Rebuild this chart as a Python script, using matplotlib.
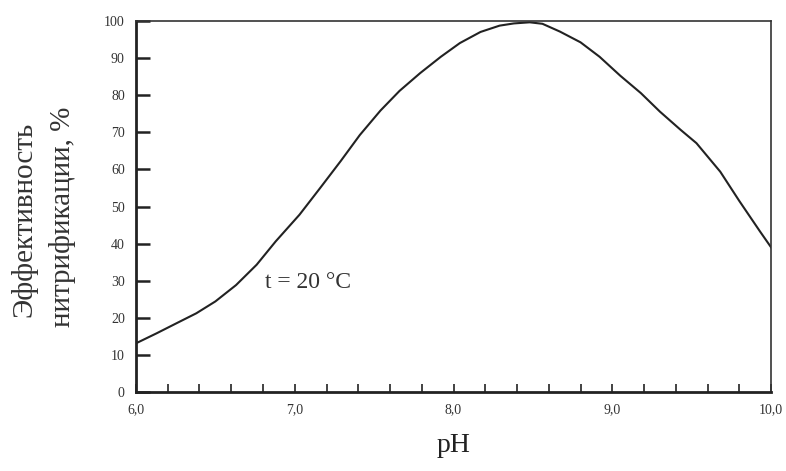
import matplotlib
matplotlib.use("Agg")
import matplotlib.pyplot as plt
from matplotlib.ticker import MultipleLocator, FuncFormatter

ph = [6.0, 6.13, 6.25, 6.38, 6.5, 6.63, 6.76, 6.88, 7.03, 7.16, 7.29, 7.41, 7.54, 7.66,
      7.79, 7.92, 8.04, 8.17, 8.29, 8.38, 8.48, 8.56, 8.67, 8.8, 8.92, 9.05, 9.18, 9.3,
      9.43, 9.53, 9.68, 9.8, 9.93, 10.0]
eff = [13.1, 15.8, 18.4, 21.2, 24.4, 28.8, 34.3, 40.6, 47.8, 55.0, 62.3, 69.3, 75.9, 81.2,
       86.0, 90.4, 94.1, 97.1, 98.8, 99.4, 99.7, 99.3, 97.2, 94.3, 90.4, 85.3, 80.6, 75.6,
       70.7, 67.1, 59.4, 51.5, 43.3, 39.0]

x_ticks = [6.0, 7.0, 8.0, 9.0, 10.0]
y_ticks = [0, 10, 20, 30, 40, 50, 60, 70, 80, 90, 100]

plt.rcParams['font.family'] = ['Liberation Serif', 'DejaVu Serif']

fig = plt.figure(figsize=(7.86, 4.71), dpi=100)
ax = fig.add_axes([0.173, 0.168, 0.808, 0.787])
ax.plot(ph, eff, color='#222222', lw=1.5)
ax.set_xlim(6.0, 10.0)
ax.set_ylim(0, 100)
ax.set_xticks(x_ticks)
ax.set_yticks(y_ticks)
ax.xaxis.set_minor_locator(MultipleLocator(0.2))
ax.xaxis.set_major_formatter(FuncFormatter(lambda v, p: f"{v:.1f}".replace('.', ',')))
ax.tick_params(axis='x', which='both', direction='in', length=6, width=1.2, labelsize=10,
               pad=8, colors='#222222', labelcolor='#333333')
ax.tick_params(axis='y', direction='in', length=10, width=1.8, labelsize=10, pad=8,
               colors='#222222', labelcolor='#333333')
for s in ['left', 'bottom']:
    ax.spines[s].set_linewidth(2.0)
    ax.spines[s].set_color('#222222')
for s in ['top', 'right']:
    ax.spines[s].set_linewidth(1.2)
    ax.spines[s].set_color('#333333')

ax.set_xlabel('pH', fontsize=20, color='#222222', labelpad=12)
fig.text(0.031, 0.535, 'Эффективность', rotation=90, fontsize=21, ha='center', va='center',
         color='#333333')
fig.text(0.079, 0.54, 'нитрификации, %', rotation=90, fontsize=21, ha='center', va='center',
         color='#333333')
ax.text(6.81, 29.5, 't = 20 °C', fontsize=17, color='#333333', ha='left', va='center')

fig.savefig('out.png', dpi=100)
